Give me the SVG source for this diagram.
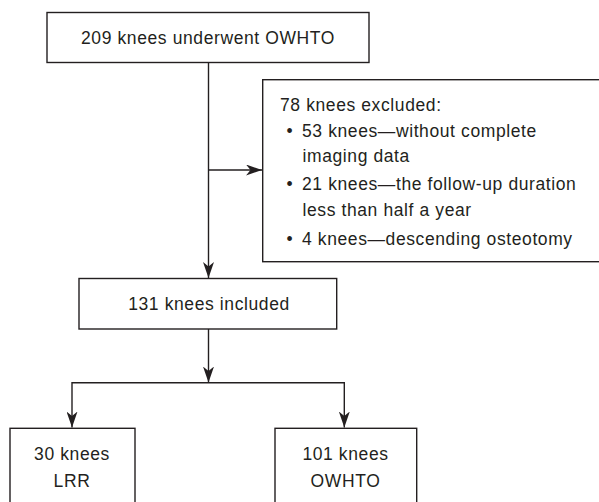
<svg xmlns="http://www.w3.org/2000/svg" width="599" height="502" viewBox="0 0 599 502">
  <defs>
    <style>
      .box { fill: #ffffff; stroke: #231f20; stroke-width: 1.4; }
      .line { fill: none; stroke: #231f20; stroke-width: 1.4; }
      .t { font-family: "Liberation Sans", Arial, Helvetica, sans-serif; font-size: 17.5px; letter-spacing: 0.6px; fill: #231f20; }
      .c { text-anchor: middle; }
    </style>
    <marker id="arrow" markerUnits="userSpaceOnUse" viewBox="0 0 16 11" refX="16" refY="5.5" markerWidth="16" markerHeight="11" orient="auto">
      <path d="M0,0 L16,5.5 L0,11 L4.5,5.5 Z" fill="#231f20"/>
    </marker>
  </defs>
  <rect width="599" height="502" fill="#ffffff"/>

  <g id="connectors">
    <line class="line" x1="208.5" y1="62.5" x2="208.5" y2="278" marker-end="url(#arrow)"/>
    <line class="line" x1="208.5" y1="170" x2="262" y2="170" marker-end="url(#arrow)"/>
    <line class="line" x1="208.5" y1="329" x2="208.5" y2="382.5" marker-end="url(#arrow)"/>
    <line class="line" x1="72" y1="382.7" x2="344.3" y2="382.7"/>
    <line class="line" x1="72" y1="382" x2="72" y2="427.5" marker-end="url(#arrow)"/>
    <line class="line" x1="344.3" y1="382" x2="344.3" y2="427.5" marker-end="url(#arrow)"/>
  </g>

  <g id="node-total">
    <rect class="box" x="47" y="12.5" width="322" height="50"/>
    <text class="t c" x="208" y="44">209 knees underwent OWHTO</text>
  </g>

  <g id="node-excluded">
    <rect class="box" x="262.7" y="79.7" width="345" height="182"/>
    <text class="t" x="280" y="111">78 knees excluded:</text>
    <text class="t" x="286.5" y="136.5">•</text>
    <text class="t" x="302" y="136.5">53 knees—without complete</text>
    <text class="t" x="302.5" y="162">imaging data</text>
    <text class="t" x="286.5" y="190">•</text>
    <text class="t" x="302" y="190">21 knees—the follow-up duration</text>
    <text class="t" x="302.5" y="216">less than half a year</text>
    <text class="t" x="286.5" y="245">•</text>
    <text class="t" x="302" y="245">4 knees—descending osteotomy</text>
  </g>

  <g id="node-included">
    <rect class="box" x="79" y="278.5" width="257.7" height="50.5"/>
    <text class="t c" x="209" y="310.3">131 knees included</text>
  </g>

  <g id="node-lrr">
    <rect class="box" x="10" y="428.3" width="125" height="90"/>
    <text class="t c" x="72" y="460">30 knees</text>
    <text class="t c" x="72" y="487.3">LRR</text>
  </g>

  <g id="node-owhto">
    <rect class="box" x="275" y="428.3" width="141.7" height="90"/>
    <text class="t c" x="345.5" y="460">101 knees</text>
    <text class="t c" x="345.5" y="487.3">OWHTO</text>
  </g>
</svg>
